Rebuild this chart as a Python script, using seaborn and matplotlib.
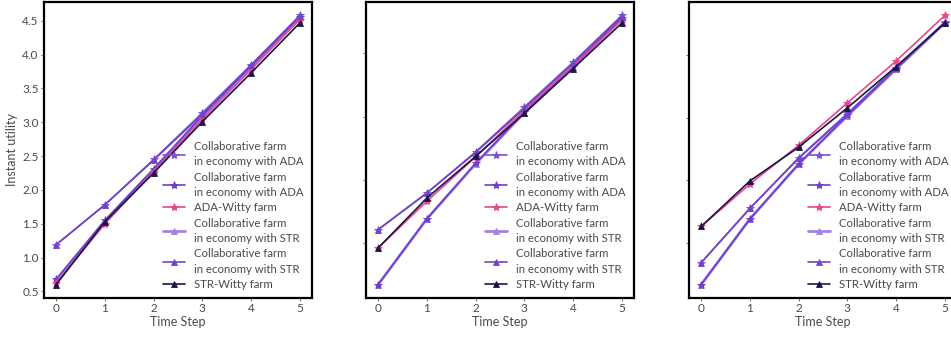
import numpy as np
import pandas as pd
import matplotlib
matplotlib.use("Agg")
import matplotlib.pyplot as plt
import seaborn as sns

steps = [0, 1, 2, 3, 4, 5]

labels = [
    "Collaborative farm\nin economy with ADA",
    "Collaborative farm\nin economy with ADA",
    "ADA-Witty farm",
    "Collaborative farm\nin economy with STR",
    "Collaborative farm\nin economy with STR",
    "STR-Witty farm",
]

# panel 1
p1_collab_ada_a = [1.19, 1.78, 2.45, 3.14, 3.85, 4.58]
p1_collab_ada_b = [0.68, 1.55, 2.31, 3.10, 3.83, 4.56]
p1_ada_witty = [0.62, 1.50, 2.27, 3.05, 3.78, 4.52]
p1_collab_str_a = [0.66, 1.54, 2.30, 3.09, 3.82, 4.56]
p1_collab_str_b = [1.19, 1.78, 2.44, 3.12, 3.84, 4.57]
p1_str_witty = [0.60, 1.53, 2.25, 3.01, 3.73, 4.47]

# panel 2
p2_collab_ada_a = [1.21, 1.79, 2.44, 3.15, 3.86, 4.60]
p2_collab_ada_b = [0.34, 1.38, 2.26, 3.07, 3.80, 4.56]
p2_ada_witty = [0.92, 1.66, 2.36, 3.10, 3.80, 4.53]
p2_collab_str_a = [0.34, 1.38, 2.25, 3.06, 3.79, 4.55]
p2_collab_str_b = [1.21, 1.79, 2.43, 3.13, 3.84, 4.58]
p2_str_witty = [0.92, 1.71, 2.37, 3.05, 3.76, 4.48]

# panel 3
p3_collab_ada_a = [0.68, 1.55, 2.36, 3.07, 3.80, 4.53]
p3_collab_ada_b = [0.33, 1.38, 2.26, 3.04, 3.79, 4.52]
p3_ada_witty = [1.26, 1.94, 2.56, 3.24, 3.91, 4.64]
p3_collab_str_a = [0.33, 1.38, 2.26, 3.03, 3.78, 4.52]
p3_collab_str_b = [0.68, 1.55, 2.35, 3.06, 3.80, 4.53]
p3_str_witty = [1.26, 1.99, 2.53, 3.16, 3.82, 4.52]

panels = [
    [p1_collab_ada_a, p1_collab_ada_b, p1_ada_witty, p1_collab_str_a, p1_collab_str_b, p1_str_witty],
    [p2_collab_ada_a, p2_collab_ada_b, p2_ada_witty, p2_collab_str_a, p2_collab_str_b, p2_str_witty],
    [p3_collab_ada_a, p3_collab_ada_b, p3_ada_witty, p3_collab_str_a, p3_collab_str_b, p3_str_witty],
]

colors = ["#7C52D9", "#6E3FCB", "#E8468F", "#A383E6", "#7443CB", "#1D1548"]
markers = ["*", "*", "*", "^", "^", "^"]
widths = [1.2, 1.2, 1.2, 2.0, 1.2, 1.2]
msizes = [6, 6, 6, 5, 5, 5]
zorders = [3, 3, 3, 2, 3, 3]

text_gray = "#4a4a4a"

sns.set_theme(style="ticks")
plt.rcParams["font.family"] = ["Lato", "DejaVu Sans"]
plt.rcParams["text.color"] = text_gray
plt.rcParams["axes.labelcolor"] = text_gray
plt.rcParams["xtick.color"] = "#555555"
plt.rcParams["ytick.color"] = "#555555"
plt.rcParams["xtick.labelcolor"] = text_gray
plt.rcParams["ytick.labelcolor"] = text_gray

fig = plt.figure(figsize=(9.51, 3.37), dpi=100)
lefts = [44 / 951, 366 / 951, 689 / 951]
width = 268 / 951
bottom = 39 / 337
height = 296 / 337

for i, series in enumerate(panels):
    ax = fig.add_axes([lefts[i], bottom, width, height])
    for k in range(6):
        df = pd.DataFrame({"Time Step": steps, "Instant utility": series[k]})
        sns.lineplot(data=df, x="Time Step", y="Instant utility", ax=ax,
                     color=colors[k], marker=markers[k], linewidth=widths[k],
                     markersize=msizes[k], markeredgewidth=0.6,
                     markeredgecolor=colors[k], label=labels[k],
                     zorder=zorders[k])
    ax.set_xticks(steps)
    for sp in ax.spines.values():
        sp.set_color("black")
        sp.set_linewidth(1.6)
    ax.tick_params(axis="both", labelsize=8.5, length=2, width=0.6, pad=1.8)
    ax.set_xlabel("Time Step", fontsize=9, labelpad=1.5)
    if i == 0:
        ax.set_ylabel("Instant utility", fontsize=9, labelpad=3)
    else:
        ax.set_ylabel("")
        ax.set_yticklabels([])
    leg = ax.legend(loc="lower right", frameon=False,
                    prop={"size": 8.2},
                    labelspacing=0.37, handlelength=2.0, handletextpad=0.8,
                    borderaxespad=0.3, borderpad=0.4)
    for t in leg.get_texts():
        t.set_color(text_gray)
        t.set_linespacing(1.5)

fig.savefig("out.png", dpi=100)
